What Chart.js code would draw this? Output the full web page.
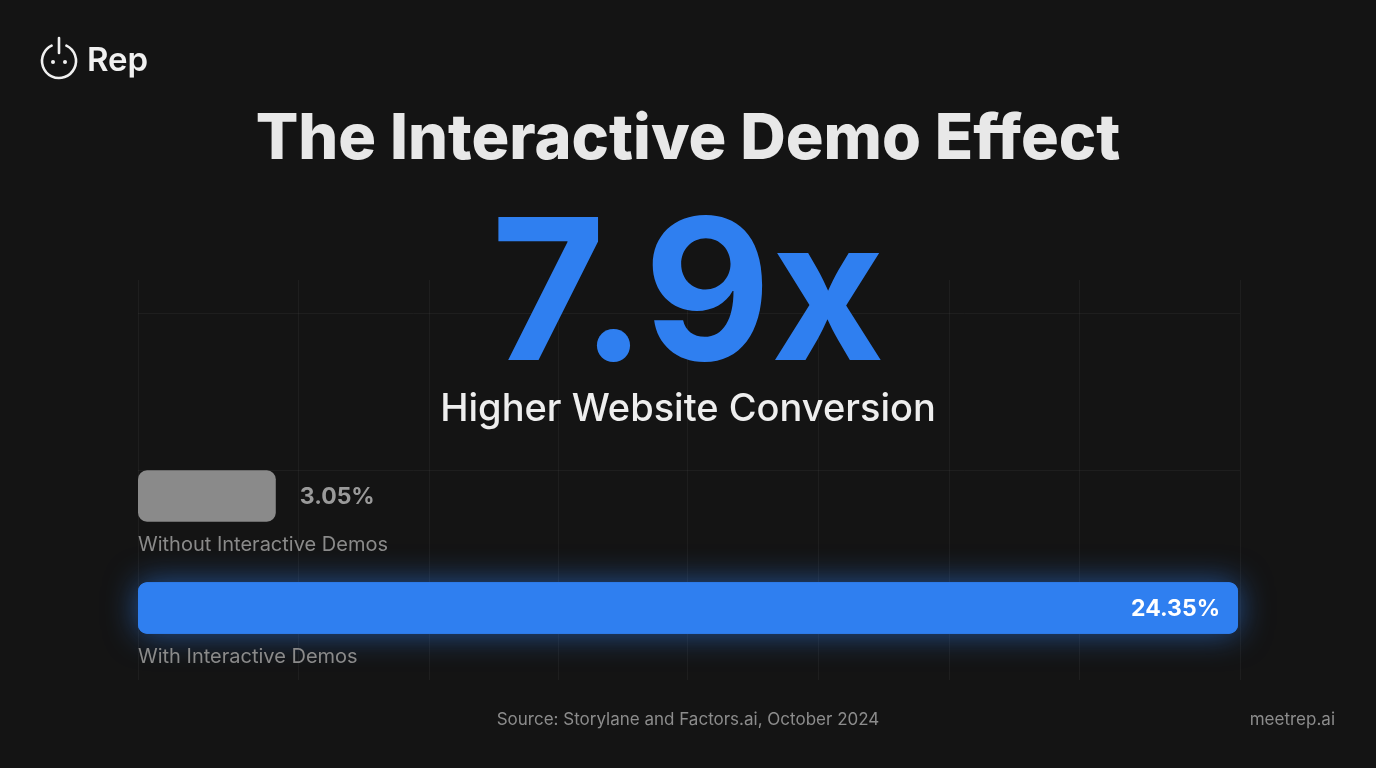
<!DOCTYPE html>
<html><head><meta charset="utf-8">
<script src="https://cdn.jsdelivr.net/npm/chart.js"></script>
<style>html,body{margin:0;padding:0;background:#141414;}#wrap{position:relative;width:1376px;height:768px;}</style>
</head><body><div id="wrap"><canvas id="c" width="1376" height="768"></canvas></div>
<script>
const categories = ["Without Interactive Demos", "With Interactive Demos"];
const values = [3.05, 24.35];
const valueLabels = ["3.05%", "24.35%"];
const barColors = ["#8a8a8a", "#2f7ff0"];
const title = "The Interactive Demo Effect";
const headline = "7.9x";
const subhead = "Higher Website Conversion";
const source = "Source: Storylane and Factors.ai, October 2024";
const site = "meetrep.ai";

const F = '"Inter","Noto Sans",sans-serif';

const decor = {
  id: 'decor',
  beforeDraw(chart) {
    const ctx = chart.ctx;
    ctx.save();
    ctx.fillStyle = '#141414';
    ctx.fillRect(0, 0, 1376, 768);
    ctx.strokeStyle = 'rgba(255,255,255,0.045)';
    ctx.lineWidth = 1;
    [138, 298, 429, 558, 687, 818, 949, 1079, 1240].forEach(x => {
      ctx.beginPath(); ctx.moveTo(x + .5, 280); ctx.lineTo(x + .5, 680); ctx.stroke();
    });
    [313, 470].forEach(y => {
      ctx.beginPath(); ctx.moveTo(138, y + .5); ctx.lineTo(1240, y + .5); ctx.stroke();
    });
    ctx.strokeStyle = '#f0f0f0'; ctx.lineWidth = 2.6; ctx.lineCap = 'round';
    ctx.beginPath(); ctx.arc(59, 61, 17, -Math.PI / 2 + 0.45, -Math.PI / 2 - 0.45 + Math.PI * 2); ctx.stroke();
    ctx.beginPath(); ctx.moveTo(59, 38); ctx.lineTo(59, 53); ctx.stroke();
    ctx.fillStyle = '#f0f0f0';
    ctx.beginPath(); ctx.arc(53, 62, 2, 0, 7); ctx.fill();
    ctx.beginPath(); ctx.arc(65, 62, 2, 0, 7); ctx.fill();
    ctx.font = '600 33px ' + F; ctx.textBaseline = 'middle'; ctx.textAlign = 'left';
    ctx.fillText('Rep', 87, 61);
    ctx.textAlign = 'center'; ctx.textBaseline = 'alphabetic';
    ctx.fillStyle = '#e8e8e8'; ctx.font = '800 63px ' + F;
    ctx.fillText(title, 688, 159);
    ctx.fillStyle = '#2f7ff0'; ctx.font = '700 196px ' + F;
    ctx.fillText(headline, 688, 360);
    ctx.fillStyle = '#eeeeee'; ctx.font = '500 38px ' + F;
    ctx.fillText(subhead, 688, 421);
    ctx.fillStyle = '#8c8c8c'; ctx.font = '400 17px ' + F;
    ctx.fillText(source, 688, 725);
    ctx.textAlign = 'right';
    ctx.fillText(site, 1335, 725);
    ctx.restore();
  },
  afterDraw(chart) {
    const ctx = chart.ctx;
    const meta = chart.getDatasetMeta(0);
    ctx.save();
    meta.data.forEach((bar, i) => {
      const h = bar.height;
      ctx.textBaseline = 'middle';
      ctx.font = '700 23px ' + F;
      if (i === 0) {
        ctx.fillStyle = '#9a9a9a'; ctx.textAlign = 'left';
        ctx.fillText(valueLabels[i], bar.x + 24, bar.y + 1);
      } else {
        ctx.fillStyle = '#ffffff'; ctx.textAlign = 'right';
        ctx.fillText(valueLabels[i], bar.x - 18, bar.y + 1);
      }
      ctx.fillStyle = '#8a8a8a'; ctx.textAlign = 'left'; ctx.font = '400 20px ' + F;
      ctx.fillText(categories[i], chart.chartArea.left, bar.y + h / 2 + 23);
    });
    ctx.restore();
  }
};

new Chart(document.getElementById('c'), {
  type: 'bar',
  data: {
    labels: categories,
    datasets: [{
      data: values,
      backgroundColor: barColors,
      borderRadius: 9,
      borderSkipped: false,
      categoryPercentage: 1,
      barPercentage: 0.46,
      shadowIdx: 1
    }]
  },
  options: {
    indexAxis: 'y',
    responsive: false,
    animation: false,
    devicePixelRatio: 1,
    layout: { padding: { left: 138, right: 138, top: 440, bottom: 104 } },
    plugins: { legend: { display: false }, tooltip: { enabled: false } },
    scales: {
      x: { min: 0, max: 24.35, display: false },
      y: { display: false }
    }
  },
  plugins: [decor, {
    id: 'glow',
    beforeDatasetsDraw(chart) {
      const ctx = chart.ctx;
      const bar = chart.getDatasetMeta(0).data[1];
      ctx.save();
      ctx.shadowColor = 'rgba(47,127,240,0.6)';
      ctx.shadowBlur = 32;
      ctx.fillStyle = '#2f7ff0';
      const top = bar.y - bar.height / 2;
      ctx.beginPath();
      ctx.roundRect(bar.base, top, bar.x - bar.base, bar.height, 9);
      ctx.fill();
      ctx.restore();
    }
  }]
});
</script></body></html>
